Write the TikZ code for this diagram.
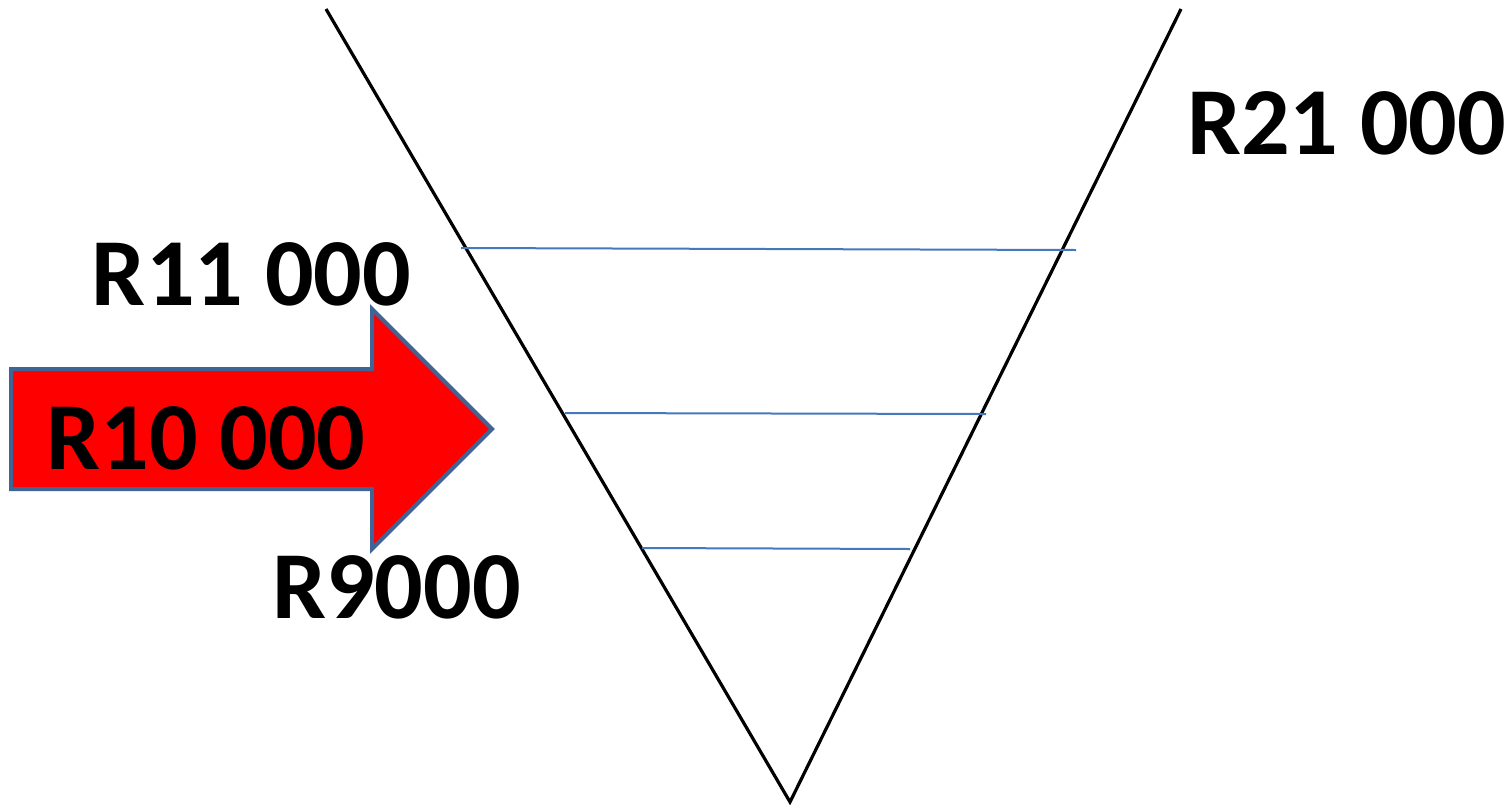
\documentclass[tikz,border=0pt]{standalone}
\usepackage{fontspec}
\setmainfont{Carlito}
\definecolor{arrowred}{RGB}{255,0,0}
\definecolor{arrowedge}{RGB}{65,100,150}
\definecolor{levelblue}{RGB}{70,120,190}
\tikzset{
  vline/.style={line width=1.6pt, black},
  level/.style={line width=1pt, levelblue},
  price/.style={font=\fontsize{48}{48}\selectfont\bfseries, inner sep=0pt, anchor=center},
  bigarrow/.style={fill=arrowred, draw=arrowedge, line width=2pt, line join=miter}
}
\begin{document}
\begin{tikzpicture}[x=0.5pt,y=-0.5pt]
\useasboundingbox[fill=white] (0,0) rectangle (1509,804);
% funnel
\coordinate (tl) at (326,9);
\coordinate (tr) at (1181,9);
\coordinate (bot) at (790,802);
\draw[vline] (tl) -- (bot) -- (tr);
% level lines
\coordinate (a1) at (461,248); \coordinate (a2) at (1076,250);
\coordinate (b1) at (565,413); \coordinate (b2) at (986,414);
\coordinate (c1) at (642,548); \coordinate (c2) at (910,549);
\draw[level] (a1) -- (a2);
\draw[level] (b1) -- (b2);
\draw[level] (c1) -- (c2);
% arrow
\draw[bigarrow] (11,369) -- (372,369) -- (372,309) -- (492,429) -- (372,549) -- (372,489) -- (11,489) -- cycle;
% labels
\node[price] (r21) at (1346.5,123.5) {R21 000};
\node[price] (r11) at (251.5,274) {R11 000};
\node[price] (r10) at (206,438) {R10 000};
\node[price] (r9) at (396.5,587.5) {R9000};
\end{tikzpicture}
\end{document}
